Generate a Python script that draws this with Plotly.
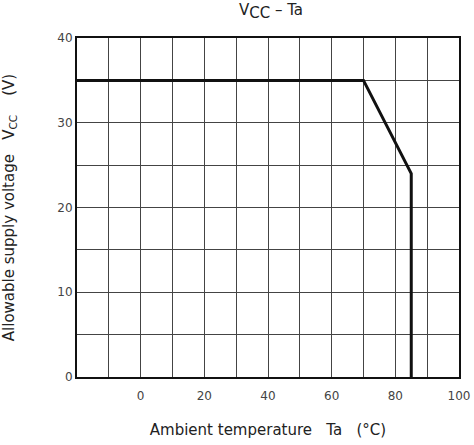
import plotly.graph_objects as go

# Derating curve: allowable supply voltage vs ambient temperature
ta_c = [-20, 70, 85, 85]
vcc_v = [35, 35, 24, 0]

x_ticks = [0, 20, 40, 60, 80, 100]
x_grid = [-20, -10, 0, 10, 20, 30, 40, 50, 60, 70, 80, 90, 100]
y_ticks = [0, 10, 20, 30, 40]
y_grid = [0, 5, 10, 15, 20, 25, 30, 35, 40]

font_family = "DejaVu Sans, Verdana, sans-serif"
grid_color = "#444444"
sp3 = "\u00a0\u00a0\u00a0"

fig = go.Figure()
fig.add_trace(go.Scatter(
    x=ta_c, y=vcc_v, mode="lines",
    line=dict(color="#111111", width=3),
    showlegend=False, hoverinfo="skip",
))

axis_common = dict(
    showgrid=True, gridcolor=grid_color, gridwidth=1,
    showline=True, linecolor="#111111", linewidth=2, mirror=True,
    ticks="", ticklen=0, zeroline=False, automargin=False,
    tickfont=dict(size=12, color="#444444"),
)

fig.update_layout(
    width=474, height=445,
    margin=dict(l=77, r=15, t=38, b=68),
    paper_bgcolor="white", plot_bgcolor="white",
    font=dict(family=font_family, color="#333333", size=12),
    title=dict(
        text="V<sub><span style='font-size:15px'>CC</span></sub> \u2013 Ta",
        x=271 / 474, xanchor="center", y=1 - 4 / 445, yanchor="top",
        font=dict(size=15, color="#222222"),
    ),
    xaxis=dict(
        range=[-20, 100],
        tickmode="array", tickvals=x_ticks,
        minor=dict(tickvals=x_grid, showgrid=True, gridcolor=grid_color, gridwidth=1, ticks=""),
        ticklabelstandoff=7,
        title=dict(text="Ambient temperature" + sp3 + "Ta" + sp3 + "(\u00b0C)",
                   font=dict(size=15, color="#222222"), standoff=22),
        **axis_common,
    ),
    yaxis=dict(
        range=[0, 40],
        tickmode="array", tickvals=y_ticks,
        minor=dict(tickvals=y_grid, showgrid=True, gridcolor=grid_color, gridwidth=1, ticks=""),
        ticklabelstandoff=0,
        title=dict(text="Allowable supply voltage" + sp3 + "V<sub>CC</sub>" + sp3 + "\u00a0(V)",
                   font=dict(size=15, color="#222222"), standoff=42),
        **axis_common,
    ),
)

fig.write_html("out.html")
